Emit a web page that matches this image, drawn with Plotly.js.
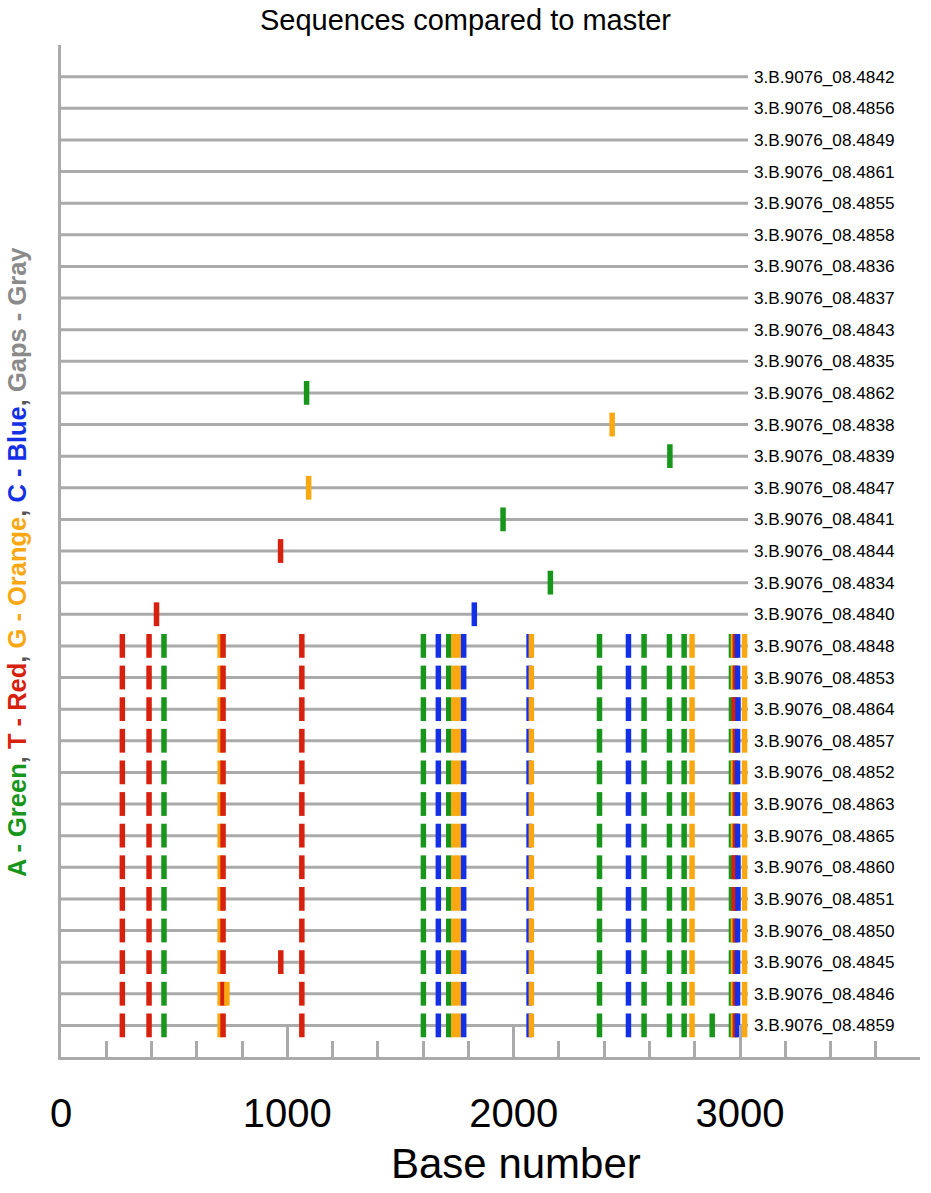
<!DOCTYPE html>
<html>
<head>
<meta charset="utf-8">
<script src="https://cdn.plot.ly/plotly-3.0.1.min.js"></script>
<style>html,body{margin:0;padding:0;background:#fff;}#chart{width:931px;height:1193px;}</style>
</head>
<body>
<div id="chart"></div>
<script>
// Sequence labels (top to bottom)
const labels = [
  "3.B.9076_08.4842","3.B.9076_08.4856","3.B.9076_08.4849","3.B.9076_08.4861",
  "3.B.9076_08.4855","3.B.9076_08.4858","3.B.9076_08.4836","3.B.9076_08.4837",
  "3.B.9076_08.4843","3.B.9076_08.4835","3.B.9076_08.4862","3.B.9076_08.4838",
  "3.B.9076_08.4839","3.B.9076_08.4847","3.B.9076_08.4841","3.B.9076_08.4844",
  "3.B.9076_08.4834","3.B.9076_08.4840","3.B.9076_08.4848","3.B.9076_08.4853",
  "3.B.9076_08.4864","3.B.9076_08.4857","3.B.9076_08.4852","3.B.9076_08.4863",
  "3.B.9076_08.4865","3.B.9076_08.4860","3.B.9076_08.4851","3.B.9076_08.4850",
  "3.B.9076_08.4845","3.B.9076_08.4846","3.B.9076_08.4859"
];

// Length of each sequence (base number where the gray line ends)
const seqLength = 3035;

// Mismatch positions per sequence
const varPos = [
  [],[],[],[],[],[],[],[],[],[],
  [1085],
  [2435],
  [2690],
  [1094],
  [1953],
  [970],
  [2162],
  [422,1826],
  [271,389,455,703,716,1064,1601,1667,1713,1735,1757,1779,2068,2078,2379,2507,2576,2688,2753,2788,2962,2971,2979,2989,3020],
  [271,389,455,703,716,1064,1601,1667,1713,1735,1757,1779,2068,2078,2379,2507,2576,2688,2753,2788,2962,2971,2979,2989,3020],
  [271,389,455,703,716,1064,1601,1667,1713,1735,1757,1779,2068,2078,2379,2507,2576,2688,2753,2788,2962,2974,2980,2991,3020],
  [271,389,455,703,716,1064,1601,1667,1713,1735,1757,1779,2068,2078,2379,2507,2576,2688,2753,2788,2962,2971,2979,2989,3020],
  [271,389,455,703,716,1064,1601,1667,1713,1735,1757,1779,2068,2078,2379,2507,2576,2688,2753,2788,2962,2971,2979,2989,3020],
  [271,389,455,703,716,1064,1601,1667,1713,1735,1757,1779,2068,2078,2379,2507,2576,2688,2753,2788,2962,2971,2979,2989,3020],
  [271,389,455,703,716,1064,1601,1667,1713,1735,1757,1779,2068,2078,2379,2507,2576,2688,2753,2788,2962,2971,2979,2989,3020],
  [271,389,455,703,716,1064,1601,1667,1713,1735,1757,1779,2068,2078,2379,2507,2576,2688,2753,2788,2962,2974,2980,2991,3020],
  [271,389,455,703,716,1064,1601,1667,1713,1735,1757,1779,2068,2078,2379,2507,2576,2688,2753,2788,2962,2974,2980,2991,3020],
  [271,389,455,703,716,1064,1601,1667,1713,1735,1757,1779,2068,2078,2379,2507,2576,2688,2753,2788,2962,2971,2979,2989,3020],
  [271,389,455,703,716,971,1064,1601,1667,1713,1735,1757,1779,2068,2078,2379,2507,2576,2688,2753,2788,2962,2971,2979,2989,3020],
  [271,389,455,703,716,733,1064,1601,1667,1713,1735,1757,1779,2068,2078,2379,2507,2576,2688,2753,2788,2962,2971,2979,2989,3020],
  [271,389,455,703,716,1064,1601,1667,1713,1735,1757,1779,2068,2078,2379,2507,2576,2688,2753,2788,2877,2962,2971,2979,2989,3020]
];

// Mismatch bases per sequence (one letter per position above)
const varBase = [
  "","","","","","","","","","",
  "A",
  "G",
  "A",
  "G",
  "A",
  "T",
  "A",
  "TC",
  "TTAGTTACAGGCCGACAAAGAGTCG",
  "TTAGTTACAGGCCGACAAAGAGTCG",
  "TTAGTTACAGGCCGACAAAGATTCG",
  "TTAGTTACAGGCCGACAAAGAGTCG",
  "TTAGTTACAGGCCGACAAAGAGTCG",
  "TTAGTTACAGGCCGACAAAGAGTCG",
  "TTAGTTACAGGCCGACAAAGAGTCG",
  "TTAGTTACAGGCCGACAAAGATTCG",
  "TTAGTTACAGGCCGACAAAGATTCG",
  "TTAGTTACAGGCCGACAAAGAGTCG",
  "TTAGTTTACAGGCCGACAAAGAGTCG",
  "TTAGTGTACAGGCCGACAAAGAGTCG",
  "TTAGTTACAGGCCGACAAAGAAGTCG"
];

const baseColor = {A:"#18961c", T:"#d8200e", G:"#f9a812", C:"#1430e6", "-":"#a8a8a8"};
const lineGray = "#aaaaaa";
const fontFam = "Liberation Sans, Arial, sans-serif";

const traces = [];
// Gray sequence lines
labels.forEach((lab, i) => {
  traces.push({
    type: "scatter", mode: "lines",
    x: [0, seqLength], y: [i + 1, i + 1],
    line: {color: lineGray, width: 3},
    hoverinfo: "skip", showlegend: false
  });
});

// Mismatch marks
const mx = [], my = [], mc = [];
varPos.forEach((row, i) => {
  row.forEach((p, j) => {
    mx.push(p); my.push(i + 1); mc.push(baseColor[varBase[i][j]]);
  });
});
traces.push({
  type: "scatter", mode: "markers",
  x: mx, y: my,
  marker: {symbol: "line-ns", size: 17, color: mc, line: {color: mc, width: 5.5}},
  showlegend: false
});

const yTitle =
  '<b><span style="color:#18961c">A - Green</span><span style="color:#555">, </span>' +
  '<span style="color:#d8200e">T - Red</span><span style="color:#555">, </span>' +
  '<span style="color:#f9a812">G - Orange</span><span style="color:#555">, </span>' +
  '<span style="color:#1430e6">C - Blue</span><span style="color:#555">, </span>' +
  '<span style="color:#8a8a8a">Gaps - Gray</span></b>';

// Row labels as annotations at the end of each sequence line
const annotations = labels.map((lab, i) => ({
  text: lab, x: seqLength, y: i + 1, xref: "x", yref: "y",
  xanchor: "left", yanchor: "middle", xshift: 4, showarrow: false,
  font: {family: fontFam, size: 17.2, color: "#000"}
}));
annotations.push({
  text: yTitle, xref: "paper", yref: "paper",
  x: -44/861, y: (1057 - 562)/1012, xanchor: "center", yanchor: "middle",
  textangle: -90, showarrow: false,
  font: {size: 25.5, family: fontFam}
});
annotations.push({
  text: "Base number", xref: "paper", yref: "paper",
  x: (517 - 61)/861, y: -(1163 - 1057)/1012, xanchor: "center", yanchor: "middle",
  showarrow: false, font: {size: 42, family: fontFam, color: "#000"}
});

const layout = {
  width: 931, height: 1193,
  margin: {l: 61, r: 11, t: 45, b: 136},
  paper_bgcolor: "#fff", plot_bgcolor: "#fff",
  font: {family: fontFam, color: "#000"},
  title: {
    text: "Sequences compared to master",
    font: {size: 29, color: "#000"},
    x: 0.5, xref: "container", y: 1 - 20/1193, yref: "container", yanchor: "middle"
  },
  xaxis: {
    range: [0, 3795],
    tickvals: [0, 1000, 2000, 3000],
    ticks: "inside", ticklen: 32, tickwidth: 3, tickcolor: lineGray,
    minor: {dtick: 200, tick0: 0, ticks: "inside", ticklen: 16, tickwidth: 3, tickcolor: lineGray, showgrid: false},
    showline: true, linecolor: lineGray, linewidth: 3,
    showgrid: false, zeroline: false,
    tickfont: {size: 40, color: "#000"},
    ticklabelstandoff: 19,
    fixedrange: true
  },
  yaxis: {
    range: [32, 0],
    tickvals: [0],
    ticks: "inside", ticklen: 15, tickwidth: 3, tickcolor: lineGray,
    showticklabels: false,
    showline: true, linecolor: lineGray, linewidth: 3,
    showgrid: false, zeroline: false,
    fixedrange: true
  },
  annotations: annotations
};

Plotly.newPlot("chart", traces, layout, {displayModeBar: false, staticPlot: true});
</script>
</body>
</html>
